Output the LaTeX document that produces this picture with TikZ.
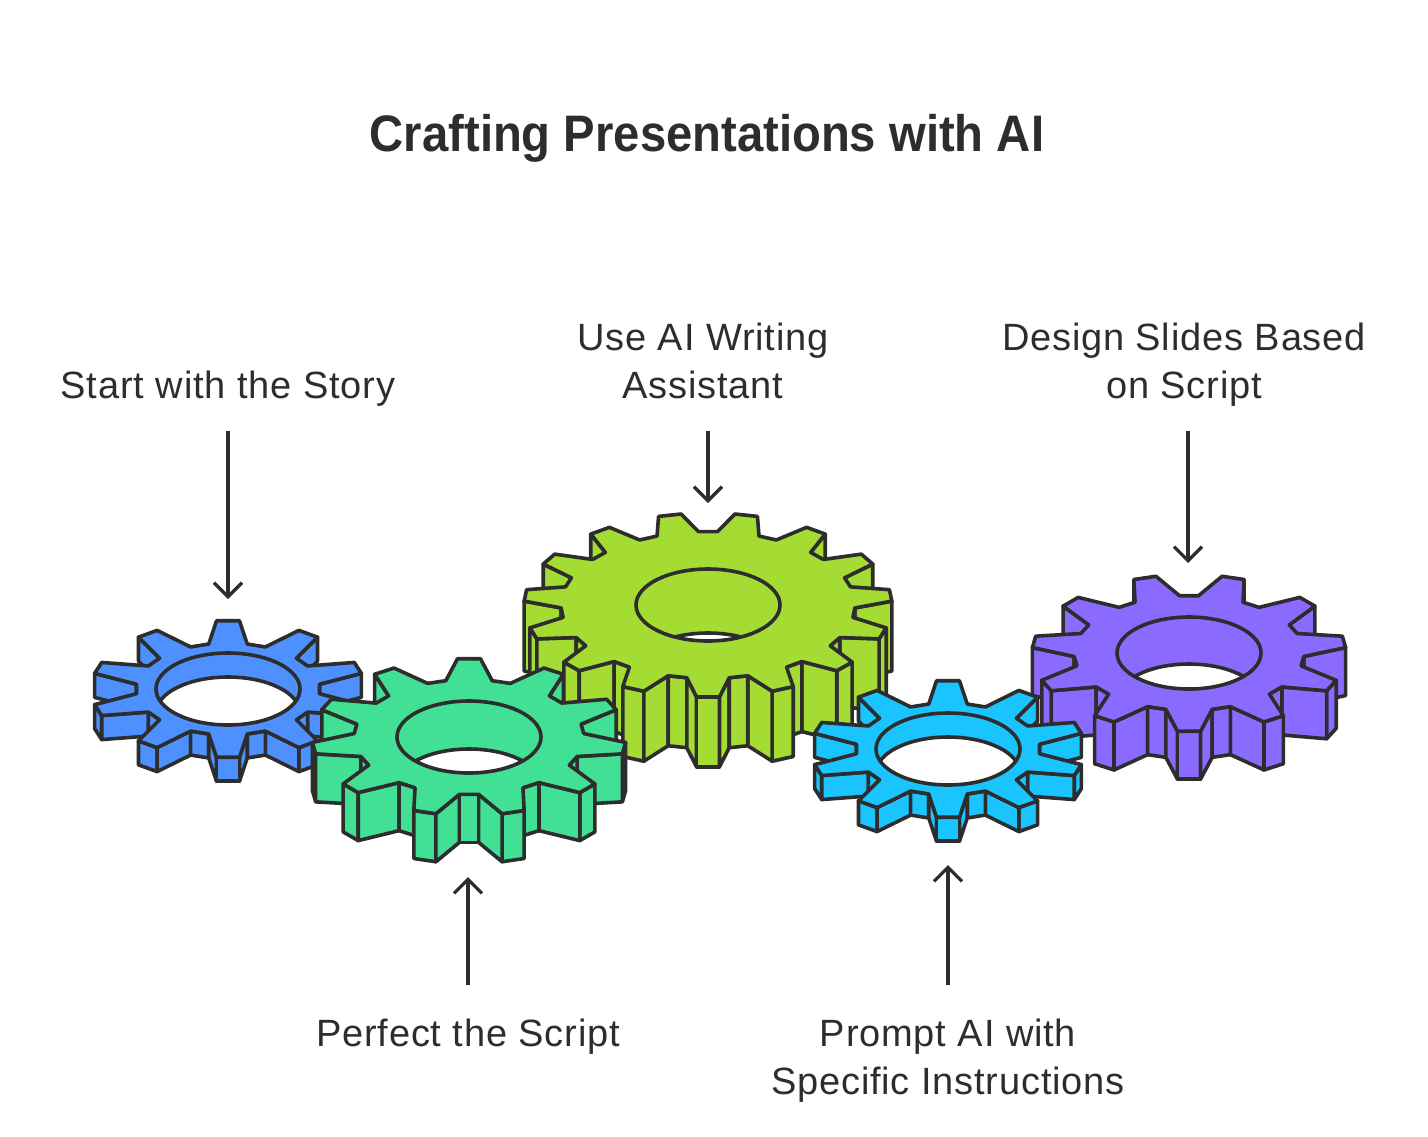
\documentclass[tikz,border=0pt]{standalone}
\usepackage{fontspec}
\setmainfont{Liberation Sans}
\newfontfamily\labelfont[LetterSpace=2.2]{Liberation Sans}
\newfontfamily\titlefont[FakeStretch=0.92]{Liberation Sans}
\usetikzlibrary{arrows.meta}
\definecolor{ink}{HTML}{2D2D2D}
\definecolor{gearblue}{HTML}{4D90FE}
\definecolor{gearlime}{HTML}{A5DC33}
\definecolor{geargreen}{HTML}{42E094}
\definecolor{gearpurple}{HTML}{8B6BFF}
\definecolor{gearsky}{HTML}{1AC4FF}
\tikzset{
	gearline/.style = {draw=ink, line width=2.7pt, line join=round},
	arrowline/.style = {draw=ink, line width=2.5pt, -{Straight Barb[length=10.5pt,width=21pt,line width=2.5pt]}},
	titletext/.style = {text=ink, inner sep=0pt, font=\fontsize{38.5}{44}\titlefont\bfseries},
	labeltext/.style = {text=ink, align=center, inner xsep=0pt, inner ysep=13.2pt, font=\fontsize{28.5}{36}\labelfont},
	lowertext/.style = {labeltext, inner ysep=21pt}
}
\newcommand{\gearwall}[4]{
	\pgfpointanchor{p#1}{center}\pgfgetlastxy{\xa}{\ya}
	\pgfpointanchor{p#2}{center}\pgfgetlastxy{\xb}{\yb}
	\ifdim\xb>\xa
		\filldraw[gearline, fill=#4] (p#1) -- (p#2) -- ([shift={(0,#3)}]p#2) -- ([shift={(0,#3)}]p#1) -- cycle;
	\fi
}
\newcommand{\drawgear}[9]{
	\pgfmathtruncatemacro{\lastp}{4*#5-1}
	\pgfmathtruncatemacro{\lastw}{2*#5-1}
	\pgfmathsetmacro{\pitch}{360/#5}
	\pgfmathsetmacro{\tipw}{asin(11.5/#3)}
	\pgfmathsetmacro{\rootw}{asin(9.5/#4)}
	\foreach \tooth in {1,...,#5}{
		\pgfmathsetmacro{\ang}{90+#6+(\tooth-1)*\pitch}
		\pgfmathtruncatemacro{\ia}{4*(\tooth-1)}
		\pgfmathtruncatemacro{\ib}{\ia+1}
		\pgfmathtruncatemacro{\ic}{\ia+2}
		\pgfmathtruncatemacro{\id}{\ia+3}
		\coordinate (p\ia) at ({#1+#3*cos(\ang-\tipw)},{#2-0.5*#3*sin(\ang-\tipw)});
		\coordinate (p\ib) at ({#1+#3*cos(\ang+\tipw)},{#2-0.5*#3*sin(\ang+\tipw)});
		\coordinate (p\ic) at ({#1+#4*cos(\ang+\pitch/2-\rootw)},{#2-0.5*#4*sin(\ang+\pitch/2-\rootw)});
		\coordinate (p\id) at ({#1+#4*cos(\ang+\pitch/2+\rootw)},{#2-0.5*#4*sin(\ang+\pitch/2+\rootw)});
	}
	\foreach \s in {0,...,\lastw}{
		\pgfmathtruncatemacro{\sa}{\s+1}
		\gearwall{\s}{\sa}{#7}{#9}
		\pgfmathtruncatemacro{\ra}{\lastp-\s}
		\pgfmathtruncatemacro{\rb}{mod(\ra+1,\lastp+1)}
		\gearwall{\ra}{\rb}{#7}{#9}
	}
	\filldraw[gearline, fill=#9] (p0) \foreach \i in {1,...,\lastp}{ -- (p\i) } -- cycle;
	\begin{scope}
		\clip (#1,#2) ellipse [x radius=72, y radius=36];
		\filldraw[gearline, fill=white] (#1,#2+#8) ellipse [x radius=72, y radius=36];
	\end{scope}
	\draw[gearline] (#1,#2) ellipse [x radius=72, y radius=36];
}

\begin{document}
\begin{tikzpicture}[x=0.75pt, y=-0.75pt]
	\useasboundingbox (0,0) rectangle (1428,1136);

	\drawgear{228}{689}{137}{92}{10}{0}{24}{24}{gearblue}
	\drawgear{708}{605}{184}{147}{15}{12}{70}{64}{gearlime}
	\drawgear{469}{737}{157}{115}{11}{0}{48}{48}{geargreen}
	\drawgear{1189}{653}{157}{115}{11}{16.3636}{48}{47}{gearpurple}
	\drawgear{948}{749}{137}{92}{10}{0}{24}{24}{gearsky}

	\node[titletext, anchor=base] (title) at (707,151) {Crafting Presentations with AI};

	\node[labeltext, anchor=south] (storylabel) at (228,431) {Start with the Story\strut};
	\node[labeltext, anchor=south] (writinglabel) at (703,431) {Use AI Writing\\Assistant\strut};
	\node[labeltext, anchor=south] (slideslabel) at (1184,431) {Design Slides Based\\on Script\strut};
	\node[lowertext, anchor=north] (scriptlabel) at (468,985) {\strut Perfect the Script};
	\node[lowertext, anchor=north] (promptlabel) at (948,985) {\strut Prompt AI with\\Specific Instructions};

	\coordinate (storytip) at (228,599);
	\coordinate (writingtip) at (708,503);
	\coordinate (slidestip) at (1188,563);
	\coordinate (scripttip) at (468,877);
	\coordinate (prompttip) at (948,865);

	\draw[arrowline] (storylabel.south) -- (storytip);
	\draw[arrowline] (writinglabel.south -| writingtip) -- (writingtip);
	\draw[arrowline] (slideslabel.south -| slidestip) -- (slidestip);
	\draw[arrowline] (scriptlabel.north) -- (scripttip);
	\draw[arrowline] (promptlabel.north) -- (prompttip);
\end{tikzpicture}
\end{document}
